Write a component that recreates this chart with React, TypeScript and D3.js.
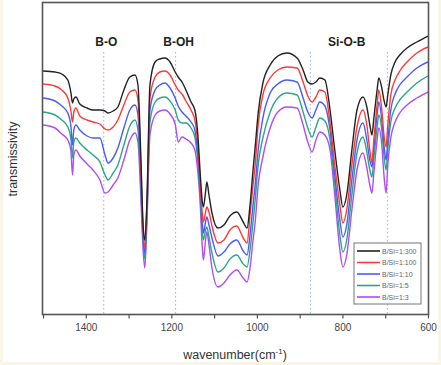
import React, {useEffect, useRef} from 'react';
import * as d3 from 'd3';

// wavenumber grid (cm-1), shared by all spectra
const wavenumbers = [1500, 1472, 1456, 1442, 1435, 1431, 1428, 1423, 1414, 1397, 1383, 1367, 1355, 1348, 1336, 1325, 1311, 1297, 1285, 1278, 1271, 1266, 1262, 1257, 1250, 1238, 1227, 1215, 1203, 1191, 1184, 1175, 1166, 1154, 1145, 1138, 1133, 1128, 1125, 1120, 1117, 1112, 1105, 1091, 1077, 1063, 1047, 1032, 1023, 1016, 1009, 1004, 997, 986, 969, 951, 930, 906, 892, 881, 871, 862, 853, 841, 829, 818, 806, 799, 790, 778, 766, 752, 743, 736, 731, 727, 719, 715, 708, 703, 698, 694, 687, 677, 666, 649, 626, 600];

// transmissivity, arbitrary units
const bs300 = [243, 242, 240, 234, 222, 211, 215, 217, 210, 206, 204, 204, 203, 201, 203, 207, 224, 237, 239, 229, 154, 89, 74, 114, 229, 252, 255, 256, 252, 242, 237, 232, 224, 212, 204, 179, 144, 114, 107, 122, 132, 119, 101, 86, 89, 98, 102, 92, 86, 109, 144, 167, 201, 231, 249, 258, 261, 256, 244, 232, 230, 232, 236, 234, 204, 164, 124, 107, 119, 164, 204, 217, 207, 189, 179, 194, 224, 236, 226, 214, 207, 219, 239, 252, 259, 266, 272, 278];
const bs100 = [230, 228, 224, 216, 204, 192, 202, 206, 198, 194, 192, 190, 185, 184, 187, 194, 209, 222, 224, 214, 144, 84, 67, 109, 216, 237, 242, 243, 239, 229, 224, 220, 213, 204, 194, 169, 134, 102, 92, 102, 107, 102, 88, 71, 74, 84, 88, 76, 71, 99, 129, 149, 189, 219, 236, 244, 247, 246, 232, 218, 212, 217, 224, 222, 191, 149, 109, 91, 104, 149, 187, 204, 189, 164, 151, 172, 209, 224, 204, 179, 167, 189, 219, 234, 243, 252, 261, 267];
const bs10 = [216, 213, 208, 201, 189, 169, 184, 189, 184, 178, 176, 176, 159, 151, 156, 166, 186, 204, 209, 199, 134, 79, 61, 104, 204, 224, 229, 231, 226, 216, 208, 202, 198, 192, 184, 159, 127, 92, 81, 92, 97, 89, 76, 58, 62, 70, 74, 63, 59, 79, 109, 129, 164, 196, 221, 230, 234, 232, 216, 202, 196, 204, 212, 208, 184, 139, 94, 77, 89, 134, 174, 191, 174, 154, 147, 164, 199, 212, 194, 169, 154, 174, 204, 220, 229, 237, 246, 252];
const bs5 = [202, 199, 194, 187, 176, 156, 172, 176, 171, 164, 159, 152, 139, 134, 141, 149, 169, 188, 194, 184, 124, 74, 55, 99, 192, 212, 216, 217, 213, 204, 194, 191, 191, 186, 177, 152, 121, 84, 74, 84, 87, 77, 61, 42, 46, 55, 59, 50, 47, 64, 92, 114, 149, 176, 202, 216, 221, 219, 202, 186, 177, 187, 196, 193, 174, 129, 79, 62, 74, 119, 161, 177, 162, 144, 137, 154, 186, 199, 184, 159, 144, 164, 192, 206, 214, 222, 231, 238];
const bs3 = [189, 186, 180, 174, 164, 139, 159, 164, 158, 150, 144, 134, 121, 122, 129, 136, 154, 174, 181, 172, 114, 64, 46, 92, 179, 199, 203, 204, 200, 190, 172, 177, 175, 171, 164, 142, 114, 69, 54, 74, 82, 69, 46, 27, 31, 39, 44, 36, 32, 46, 74, 92, 129, 157, 186, 202, 207, 206, 189, 172, 162, 174, 182, 179, 164, 119, 64, 47, 59, 104, 144, 161, 146, 129, 121, 139, 174, 186, 169, 139, 121, 149, 176, 192, 201, 209, 216, 222];

const seriesNames = ['B/Si=1:300', 'B/Si=1:100', 'B/Si=1:10', 'B/Si=1:5', 'B/Si=1:3'];
const seriesColors = ['#222222', '#ff3838', '#4a5cf5', '#2aa588', '#b04cf5'];

// band markers
const bandLabels = ['B-O', 'B-OH', 'Si-O-B'];
const bandLabelPos = [1352, 1183, 790];
const markerLines = [1358, 1190, 875, 695];

const xTicks = [1500, 1400, 1300, 1200, 1100, 1000, 900, 800, 700, 600];

const Chart = () => {
    const ref = useRef<SVGSVGElement>(null);

    useEffect(() => {
        const svg = d3.select(ref.current);
        svg.selectAll('*').remove();

        const width = 441;
        const height = 365;
        const margin = {top: 3, right: 13, bottom: 51, left: 43};

        svg.append('rect').attr('width', width).attr('height', height).attr('fill', '#f9f6e8');
        svg.append('rect').attr('x', 3).attr('y', 0).attr('width', 435).attr('height', 362).attr('fill', '#ffffff');

        const x = d3.scaleLinear().domain([1500, 600]).range([margin.left, width - margin.right]);
        const y = d3.scaleLinear().domain([0, 311]).range([height - margin.bottom, margin.top]);

        // dotted band markers
        svg.selectAll('.marker')
            .data(markerLines)
            .enter().append('line')
            .attr('x1', d => x(d)).attr('x2', d => x(d))
            .attr('y1', 52).attr('y2', y(0))
            .attr('stroke', '#9bb0d8')
            .attr('stroke-width', 1)
            .attr('stroke-dasharray', '1.5,2.5');

        const series = [bs300, bs100, bs10, bs5, bs3];
        const line = d3.line<number>()
            .x((d, i) => x(wavenumbers[i]))
            .y(d => y(d))
            .curve(d3.curveMonotoneX);

        // draw bottom series first so black sits on top
        series.slice().reverse().forEach((vals, k) => {
            const idx = series.length - 1 - k;
            svg.append('path')
                .datum(vals)
                .attr('d', line)
                .attr('fill', 'none')
                .attr('stroke', seriesColors[idx])
                .attr('stroke-width', 1.4);
        });

        // band labels
        svg.selectAll('.band')
            .data(bandLabels)
            .enter().append('text')
            .attr('x', (d, i) => x(bandLabelPos[i]))
            .attr('y', 46)
            .attr('text-anchor', 'middle')
            .attr('font-family', 'Liberation Sans, Arial, sans-serif')
            .attr('font-size', 12)
            .attr('font-weight', 'bold')
            .attr('fill', '#222')
            .text(d => d);

        // frame
        svg.append('rect')
            .attr('x', margin.left - 0.5).attr('y', margin.top - 0.5)
            .attr('width', width - margin.right - margin.left + 1)
            .attr('height', height - margin.bottom - margin.top + 1)
            .attr('fill', 'none')
            .attr('stroke', '#555')
            .attr('stroke-width', 1.6);

        // x axis
        const axis = svg.append('g')
            .attr('transform', `translate(0,${y(0) + 0.5})`)
            .call(d3.axisBottom(x).tickValues(xTicks).tickSize(4)
                .tickFormat(d => (+d % 200 === 0 ? String(d) : '')));
        axis.select('.domain').remove();
        axis.selectAll('line').attr('stroke', '#555').attr('stroke-width', 1.2);
        axis.selectAll('text')
            .attr('font-family', 'Liberation Sans, Arial, sans-serif')
            .attr('font-size', 10)
            .attr('fill', '#444')
            .attr('dy', '0.9em');

        const xl = svg.append('text')
            .attr('x', 235).attr('y', 359)
            .attr('text-anchor', 'middle')
            .attr('font-family', 'Liberation Sans, Arial, sans-serif')
            .attr('font-size', 12.5)
            .attr('fill', '#333');
        xl.append('tspan').text('wavenumber(cm');
        xl.append('tspan').attr('font-size', 8).attr('dy', -5).text('-1');
        xl.append('tspan').attr('dy', 5).text(')');

        svg.append('text')
            .attr('transform', 'translate(17,159) rotate(-90)')
            .attr('text-anchor', 'middle')
            .attr('font-family', 'Liberation Sans, Arial, sans-serif')
            .attr('font-size', 12.5)
            .attr('fill', '#333')
            .text('transmissivity');

        // legend
        const lg = svg.append('g').attr('transform', 'translate(354,243)');
        lg.append('rect')
            .attr('width', 67).attr('height', 61)
            .attr('fill', '#fff')
            .attr('stroke', '#777')
            .attr('stroke-width', 1);
        const items = lg.selectAll('.item')
            .data(seriesNames)
            .enter().append('g')
            .attr('transform', (d, i) => `translate(0,${8 + i * 11.5})`);
        items.append('line')
            .attr('x1', 3).attr('x2', 26)
            .attr('stroke', (d, i) => seriesColors[i])
            .attr('stroke-width', 1.6);
        items.append('text')
            .attr('x', 28).attr('y', 2.5)
            .attr('font-family', 'Liberation Sans, Arial, sans-serif')
            .attr('font-size', 7)
            .attr('fill', '#666')
            .text(d => d);
    }, []);

    return <svg ref={ref} width={441} height={365} style={{position: 'absolute', left: 0, top: 0}}/>;
};

export default function App() {
    return <Chart/>;
}
